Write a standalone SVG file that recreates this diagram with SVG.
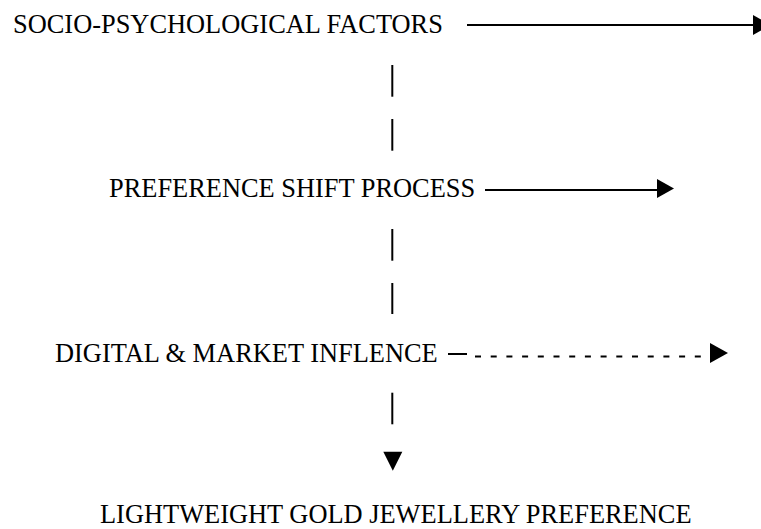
<svg xmlns="http://www.w3.org/2000/svg" width="761" height="529" viewBox="0 0 761 529">
<style>
.t{font-family:"Liberation Serif","Times New Roman",serif;font-size:26.4px;fill:#000}
.l{stroke:#000;stroke-width:2;fill:none}
.d{stroke:#000;stroke-width:2.2;fill:none;stroke-dasharray:6 9.7}
.h{fill:#000}
</style>
<rect width="761" height="529" fill="#fff"/>
<g id="node-socio"><text class="t" x="13" y="33">SOCIO-PSYCHOLOGICAL FACTORS</text></g>
<g id="node-preference"><text class="t" x="109" y="197">PREFERENCE SHIFT PROCESS</text></g>
<g id="node-digital"><text class="t" x="55" y="362">DIGITAL &amp; MARKET INFLENCE</text></g>
<g id="node-lightweight"><text class="t" x="100" y="523">LIGHTWEIGHT GOLD JEWELLERY PREFERENCE</text></g>
<g id="connectors">
<line class="l" x1="467" y1="25" x2="755" y2="25"/>
<polygon class="h" points="753,15 771,25 753,35"/>
<line class="l" x1="392.3" y1="65" x2="392.3" y2="96.7"/>
<line class="l" x1="392.3" y1="119" x2="392.3" y2="150.7"/>
<line class="l" x1="485" y1="190" x2="658" y2="190"/>
<polygon class="h" points="657,179 674,188.5 657,198"/>
<line class="l" x1="392.3" y1="229" x2="392.3" y2="260.7"/>
<line class="l" x1="392.3" y1="283" x2="392.3" y2="314"/>
<line class="l" x1="448" y1="354" x2="467" y2="354"/>
<line class="d" x1="475" y1="356.5" x2="701" y2="356.5"/>
<polygon class="h" points="710,343 728,353 710,363"/>
<line class="l" x1="392.3" y1="392.7" x2="392.3" y2="424.3"/>
<polygon class="h" points="383.3,451.7 402.3,451.7 392.8,470.7"/>
</g>
</svg>
